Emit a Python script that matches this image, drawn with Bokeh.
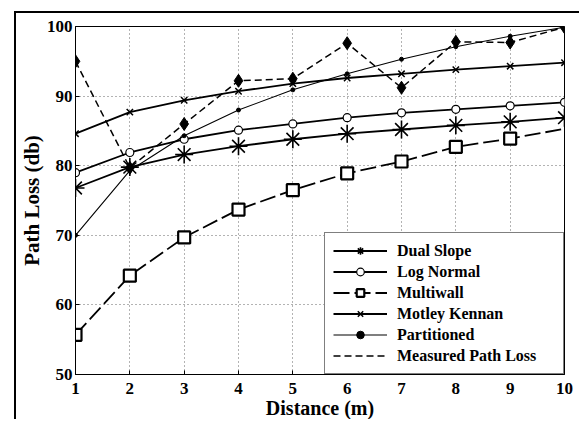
from bokeh.plotting import figure
from bokeh.models import Legend, LegendItem, FixedTicker, Range1d
from bokeh.embed import file_html
from bokeh.resources import INLINE

distance = [1, 2, 3, 4, 5, 6, 7, 8, 9, 10]
dual_slope = [76.8, 79.8, 81.6, 82.8, 83.8, 84.6, 85.2, 85.8, 86.3, 86.9]
log_normal = [79.0, 81.9, 83.8, 85.1, 86.0, 86.9, 87.6, 88.1, 88.6, 89.1]
multiwall = [55.7, 64.2, 69.7, 73.7, 76.5, 78.9, 80.6, 82.7, 83.9, 85.3]
motley_kennan = [84.6, 87.7, 89.4, 90.7, 91.8, 92.6, 93.2, 93.8, 94.3, 94.8]
partitioned = [70.0, 79.3, 84.3, 88.0, 90.9, 93.2, 95.3, 97.1, 98.6, 99.9]
measured = [95.0, 79.7, 86.0, 92.2, 92.5, 97.6, 91.2, 97.8, 97.7, 99.9]
x_ticks = [1, 2, 3, 4, 5, 6, 7, 8, 9, 10]
y_ticks = [50, 60, 70, 80, 90, 100]

FONT = "Liberation Serif"

p = figure(width=565, height=408, output_backend="svg", toolbar_location=None,
           x_range=Range1d(1, 10), y_range=Range1d(50, 100),
           min_border_left=59, min_border_right=17, min_border_top=13, min_border_bottom=46)
p.styles = {"margin-left": "14px", "margin-top": "11px",
            "border-left": "2px solid black", "border-top": "2px solid black"}

p.outline_line_color = "black"
p.outline_line_width = 1
p.background_fill_color = "white"

for ax in (p.xaxis[0], p.yaxis[0]):
    ax.major_tick_in = 4
    ax.major_tick_out = 0
    ax.minor_tick_in = 0
    ax.minor_tick_out = 0
    ax.axis_line_color = "black"
    ax.major_label_text_font = FONT
    ax.major_label_text_font_style = "bold"
    ax.major_label_text_font_size = "17px"
    ax.major_label_text_color = "black"
    ax.axis_label_text_font = FONT
    ax.axis_label_text_font_style = "bold"
    ax.axis_label_text_color = "black"

p.xaxis.ticker = FixedTicker(ticks=x_ticks)
p.yaxis.ticker = FixedTicker(ticks=y_ticks)
p.xaxis.major_label_standoff = 8
p.yaxis.major_label_standoff = 3
p.xaxis.axis_label = "Distance (m)"
p.yaxis.axis_label = "Path Loss (db)"
p.xaxis.axis_label_text_font_size = "20px"
p.yaxis.axis_label_text_font_size = "21px"
p.xaxis.axis_label_standoff = 0
p.yaxis.axis_label_standoff = 0

for g in (p.xgrid[0], p.ygrid[0]):
    g.grid_line_color = "black"
    g.grid_line_alpha = 0.6
    g.grid_line_dash = "1 3"
    g.grid_line_width = 1

# Dual Slope
ds_l = p.line(distance, dual_slope, line_color="black", line_width=1.8)
ds_m = p.scatter(distance, dual_slope, marker="asterisk", size=18, line_color="black", line_width=1.6)
# Log Normal
ln_l = p.line(distance, log_normal, line_color="black", line_width=1.8)
ln_m = p.scatter(distance, log_normal, marker="circle", size=8, line_color="black",
                 fill_color="white", line_width=1.2)
# Multiwall
mw_l = p.line(distance, multiwall, line_color="black", line_width=1.8, line_dash="16 5")
mw_m = p.scatter(distance[:9], multiwall[:9], marker="square", size=12, line_color="black",
                 fill_color="white", line_width=2.2)
# Motley Kennan
mk_l = p.line(distance, motley_kennan, line_color="black", line_width=1.8)
mk_m = p.scatter(distance, motley_kennan, marker="x", size=9, line_color="black", line_width=1.5)
# Partitioned
pt_l = p.line(distance, partitioned, line_color="black", line_width=1.1)
pt_m = p.scatter(distance, partitioned, marker="circle", size=4, line_color="black", fill_color="black")
# Measured
me_l = p.line(distance, measured, line_color="black", line_width=1.5, line_dash="7 4")
me_m = p.scatter(distance, measured, marker="diamond", size=13, line_color="black", fill_color="black")

legend = Legend(items=[
    LegendItem(label="Dual Slope", renderers=[ds_l, ds_m]),
    LegendItem(label="Log Normal", renderers=[ln_l, ln_m]),
    LegendItem(label="Multiwall", renderers=[mw_l, mw_m]),
    LegendItem(label="Motley Kennan", renderers=[mk_l, mk_m]),
    LegendItem(label="Partitioned", renderers=[pt_l, pt_m]),
    LegendItem(label="Measured Path Loss", renderers=[me_l]),
], location="bottom_right")
legend.margin = 0
legend.padding = 8
legend.spacing = 2
legend.label_height = 19
legend.glyph_height = 19
legend.glyph_width = 54
legend.label_standoff = 10
legend.label_width = 158
legend.label_text_font = FONT
legend.label_text_font_style = "bold"
legend.label_text_font_size = "16px"
legend.label_text_color = "black"
legend.border_line_color = "black"
legend.border_line_width = 1.5
legend.background_fill_alpha = 1.0
p.add_layout(legend)

open("out.html", "w").write(file_html(p, INLINE))
